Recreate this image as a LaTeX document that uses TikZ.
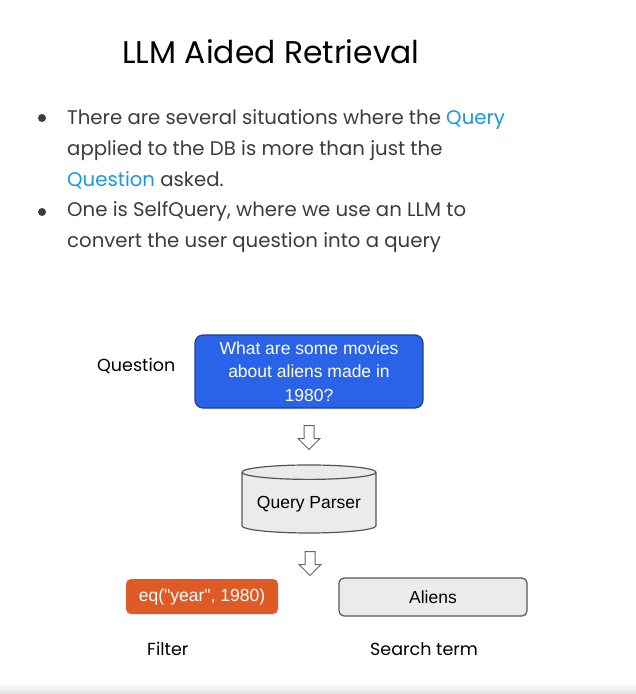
\documentclass[tikz,border=0pt]{standalone}
\usepackage{fontspec}
\setmainfont{Poppins}
\newfontfamily\boxfont{Liberation Sans}
\usetikzlibrary{arrows.meta,calc,positioning,shapes.geometric,shapes.arrows}
\definecolor{bodygray}{HTML}{3C3C3C}
\definecolor{linkblue}{HTML}{1A9AD6}
\definecolor{askblue}{HTML}{2B63E8}
\definecolor{askborder}{HTML}{1F3F8F}
\definecolor{filterorange}{HTML}{E05A28}
\definecolor{termgray}{HTML}{EBEBEB}
\definecolor{edgegray}{HTML}{555555}

\begin{document}
\begin{tikzpicture}[x=1pt,y=-1pt,
    bodytext/.style={anchor=base west,align=left,inner sep=0pt,text=bodygray,
      font=\fontsize{19.7}{30.8}\selectfont},
    sidelabel/.style={anchor=base west,inner sep=0pt,font=\fontsize{17.5}{20}\selectfont},
    askbox/.style={draw=askborder,fill=askblue,text=white,line width=1.2pt,
      rounded corners=8pt,align=center,minimum width=228,minimum height=73,
      font=\boxfont\fontsize{17.5}{23.5}\selectfont},
    parser/.style={cylinder,shape border rotate=90,shape aspect=0.13,draw=edgegray,
      fill=termgray,line width=1.2pt,minimum width=134,minimum height=68,
      font=\boxfont\fontsize{17.5}{20}\selectfont},
    downarrow/.style={single arrow,rotate=-90,draw=edgegray!90,fill=white,line width=1pt,
      minimum height=24,inner xsep=0pt,inner ysep=4.5pt,single arrow head extend=6pt},
    filterbox/.style={fill=filterorange,text=white,rounded corners=5pt,
      minimum width=152,minimum height=35,font=\boxfont\fontsize{17.5}{20}\selectfont},
    termbox/.style={draw=edgegray,fill=termgray,line width=1.2pt,rounded corners=5pt,
      minimum width=188,minimum height=38,font=\boxfont\fontsize{17.5}{20}\selectfont}]
  \fill[white] (0,0) rectangle (636,694);
  \useasboundingbox (0,0) rectangle (636,694);
  \shade[top color=white,bottom color=black!12] (0,683) rectangle (636,694);

  % heading and bullets
  \node[anchor=base,inner sep=0pt,font=\fontsize{31.4}{36}\selectfont] (title) at (271,63)
    {LLM Aided Retrieval};
  \fill[bodygray] (42,118) circle (4);
  \node[bodytext] (bulletone) at (67,186)
    {There are several situations where the \textcolor{linkblue}{Query}\\
     applied to the DB is more than just the\\
     \textcolor{linkblue}{Question} asked.};
  \fill[bodygray] (42,212) circle (4);
  \node[bodytext] (bullettwo) at (67,247)
    {One is SelfQuery, where we use an LLM to\\
     convert the user question into a query};

  % diagram
  \node[askbox] (question) at (309,371.5)
    {What are some movies\\about aliens made in\\1980?};
  \node[sidelabel] (asklabel) at (97,371.7) {Question};
  \node[parser] (parser) at (309,504) {Query Parser};
  \node[downarrow] (arrowone) at (309,435) {};
  \node[downarrow] (arrowtwo) at (310,561) {};
  \node[filterbox] (filter) at (202,596.5) {eq("year", 1980)};
  \node[termbox] (term) at (433,597) {Aliens};
  \node[sidelabel] (filterlabel) at (147,655) {Filter};
  \node[sidelabel] (termlabel) at (370,655) {Search term};
\end{tikzpicture}
\end{document}
